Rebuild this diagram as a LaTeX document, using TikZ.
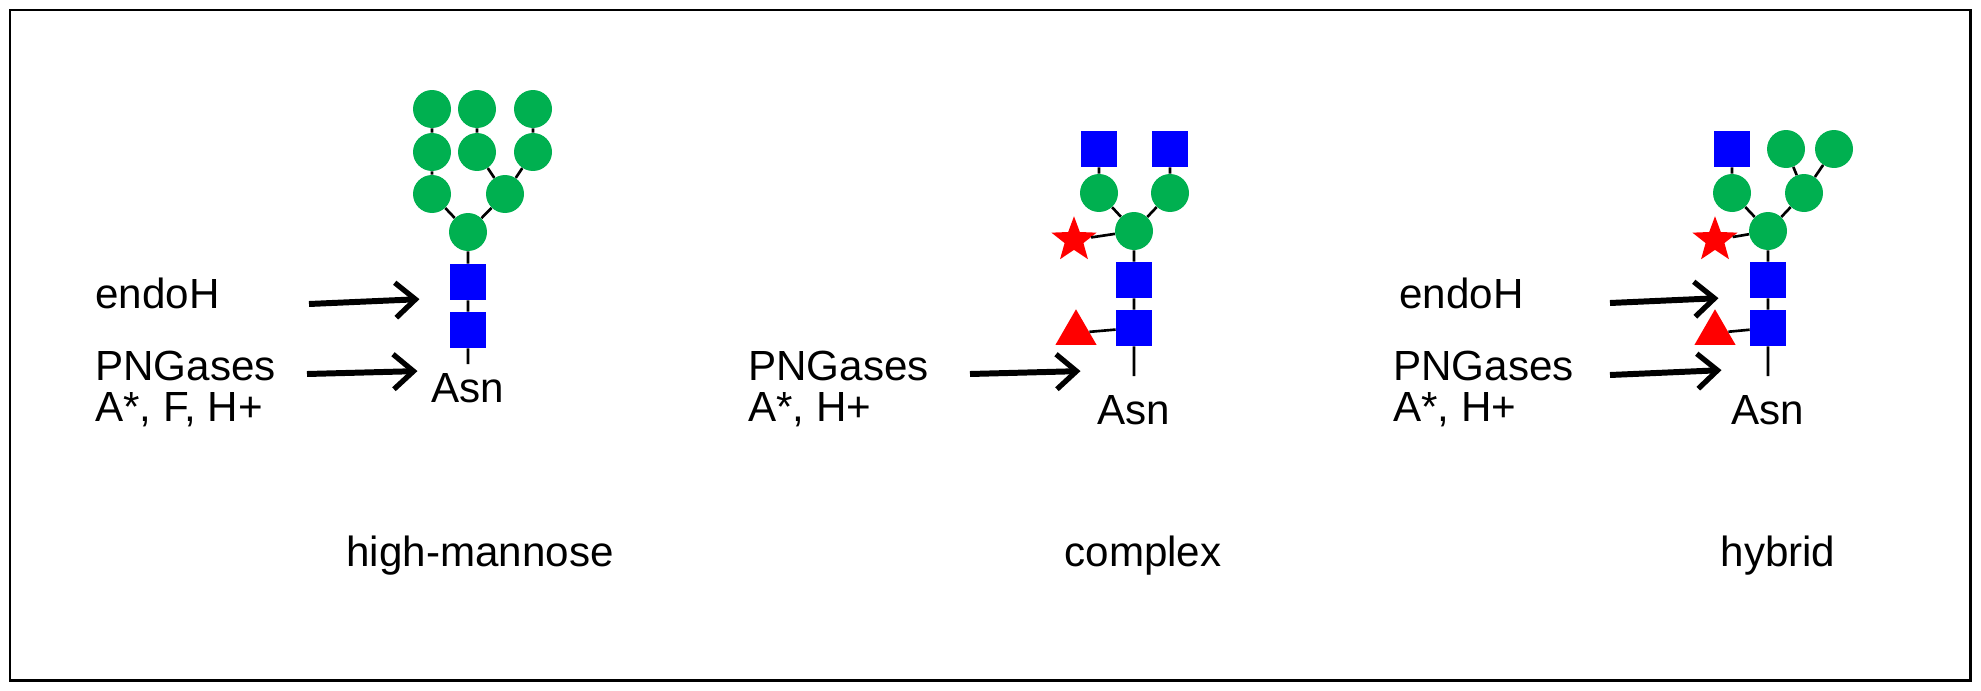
\documentclass[tikz,border=0pt]{standalone}
\usepackage{fontspec}
\setmainfont{Liberation Sans}
\usetikzlibrary{shapes.geometric,arrows.meta}
\definecolor{glcgreen}{RGB}{0,176,80}
\begin{document}
\begin{tikzpicture}[x=0.02cm,y=-0.02cm,
  man/.style={circle,fill=glcgreen,minimum size=0.76cm,inner sep=0},
  nag/.style={rectangle,fill=blue,minimum size=0.72cm,inner sep=0},
  fuc/.style={regular polygon,regular polygon sides=3,fill=red,minimum size=0.95cm,inner sep=0},
  xyl/.style={star,star points=5,star point ratio=2.4,fill=red,minimum size=0.95cm,inner sep=0},
  bond/.style={line width=1.5pt},
  enz/.style={-{Straight Barb[length=4mm,width=7mm,line width=3pt]},line width=3.4pt,shorten >=2pt},
  lbl/.style={font=\fontsize{24}{29}\selectfont,inner sep=0},
  lbll/.style={lbl,anchor=west}]
\useasboundingbox (0,0) rectangle (1981,690);
\draw[line width=1.7pt] (10,10) rectangle (1970,680);
% high-mannose
\node[man] (h1) at (432,109) {};
\node[man] (h2) at (477,109) {};
\node[man] (h3) at (533,109) {};
\node[man] (h4) at (432,152) {};
\node[man] (h5) at (477,152) {};
\node[man] (h6) at (533,152) {};
\node[man] (h7) at (432,194) {};
\node[man] (h8) at (505,194) {};
\node[man] (h9) at (468,232) {};
\node[nag] (hs1) at (468,282) {};
\node[nag] (hs2) at (468,330) {};
\node[lbl] (hasn) at (468,388) {Asn};
\coordinate (hend) at (468,364);
\draw[bond] (h1)--(h4) (h4)--(h7) (h2)--(h5) (h5)--(h8) (h3)--(h6) (h6)--(h8) (h7)--(h9) (h8)--(h9) (h9)--(hs1) (hs1)--(hs2) (hs2)--(hend);
\node[lbll] (hendo) at (95,293) {endoH};
\node[lbll] (hpng) at (95,366) {PNGases};
\node[lbll] (hpng2) at (95,410) {A*, F, H+};
\coordinate (ha1s) at (309,304); \coordinate (ha1e) at (423,299);
\coordinate (ha2s) at (307,374); \coordinate (ha2e) at (421,371);
\draw[enz] (ha1s)--(ha1e);
\draw[enz] (ha2s)--(ha2e);
\node[lbl] (hname) at (480,556) {high-mannose};
% complex
\node[nag] (c1) at (1099,149) {};
\node[nag] (c2) at (1170,149) {};
\node[man] (c3) at (1099,193) {};
\node[man] (c4) at (1170,193) {};
\node[man] (c5) at (1134,231) {};
\node[xyl] (cx) at (1074,240) {};
\node[nag] (cs1) at (1134,280) {};
\node[nag] (cs2) at (1134,328) {};
\node[fuc] (cf) at (1076,333) {};
\node[lbl] (casn) at (1134,410) {Asn};
\coordinate (cend) at (1134,376);
\draw[bond] (c1)--(c3) (c2)--(c4) (c3)--(c5) (c4)--(c5) (cx)--(c5) (c5)--(cs1) (cs1)--(cs2) (cf)--(cs2) (cs2)--(cend);
\node[lbll] (cpng) at (748,366) {PNGases};
\node[lbll] (cpng2) at (748,410) {A*, H+};
\coordinate (ca2s) at (970,374); \coordinate (ca2e) at (1084,371);
\draw[enz] (ca2s)--(ca2e);
\node[lbl] (cname) at (1143,556) {complex};
% hybrid
\node[nag] (y1) at (1732,149) {};
\node[man] (y2) at (1786,149) {};
\node[man] (y3) at (1834,149) {};
\node[man] (y4) at (1732,193) {};
\node[man] (y5) at (1804,193) {};
\node[man] (y6) at (1768,231) {};
\node[xyl] (yx) at (1715,240) {};
\node[nag] (ys1) at (1768,280) {};
\node[nag] (ys2) at (1768,328) {};
\node[fuc] (yf) at (1715,333) {};
\node[lbl] (yasn) at (1768,410) {Asn};
\coordinate (yend) at (1768,376);
\draw[bond] (y1)--(y4) (y2)--(y5) (y3)--(y5) (y4)--(y6) (y5)--(y6) (yx)--(y6) (y6)--(ys1) (ys1)--(ys2) (yf)--(ys2) (ys2)--(yend);
\node[lbll] (yendo) at (1399,293) {endoH};
\node[lbll] (ypng) at (1393,366) {PNGases};
\node[lbll] (ypng2) at (1393,410) {A*, H+};
\coordinate (ya1s) at (1610,303); \coordinate (ya1e) at (1722,298);
\coordinate (ya2s) at (1610,375); \coordinate (ya2e) at (1725,370);
\draw[enz] (ya1s)--(ya1e);
\draw[enz] (ya2s)--(ya2e);
\node[lbl] (yname) at (1778,556) {hybrid};
\end{tikzpicture}
\end{document}
